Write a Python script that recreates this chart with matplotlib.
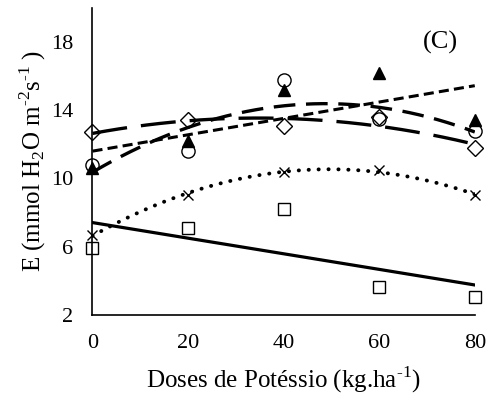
import matplotlib
matplotlib.use('Agg')
import matplotlib.pyplot as plt
import numpy as np

plt.rcParams['font.family'] = ['Liberation Serif', 'DejaVu Serif']
plt.rcParams['mathtext.fontset'] = 'custom'
plt.rcParams['mathtext.rm'] = 'Liberation Serif'

doses = [0, 20, 40, 60, 80]
e_square = [5.9, 7.1, 8.2, 3.65, 3.05]
e_cross = [6.7, 9.0, 10.4, 10.5, 9.0]
e_circle = [10.8, 11.6, 15.8, 13.5, 12.8]
e_triangle = [10.6, 12.2, 15.2, 16.2, 13.4]
e_diamond = [12.7, 13.4, 13.1, 13.6, 11.8]

fig = plt.figure(figsize=(4.92, 3.96), dpi=100)
ax = fig.add_axes([0.188, 0.205, 0.777, 0.775])

x = np.array(doses)
xs = np.linspace(0, 80, 200)

# markers (hollow, trend lines drawn on top)
ax.plot(x, e_square, 's', ms=9, mfc='none', mec='black', mew=1.0, clip_on=False)
ax.plot(x, e_cross, 'x', ms=7, mec='black', mew=1.0, clip_on=False)
ax.plot(x, e_circle, 'o', ms=9.5, mfc='none', mec='black', mew=1.0, clip_on=False)
ax.plot(x, e_triangle, '^', ms=8.5, mfc='black', mec='black', clip_on=False)
ax.plot(x, e_diamond, 'D', ms=8, mfc='none', mec='black', mew=1.0, clip_on=False)

# trend lines
fit = np.polyfit(x, e_square, 1)
ax.plot(xs, np.polyval(fit, xs), '-', color='black', lw=2.3)

fit = np.polyfit(x, e_cross, 2)
ax.plot(xs, np.polyval(fit, xs), color='black', lw=2.8,
        linestyle=(0, (0.05, 2.5)), dash_capstyle='round')

fit = np.polyfit(x, e_triangle, 1)
ax.plot(xs, np.polyval(fit, xs), color='black', lw=2.2,
        linestyle=(0, (3.3, 1.7)))

fit = np.polyfit(x, e_circle, 2)
ax.plot(xs, np.polyval(fit, xs), color='black', lw=2.4,
        linestyle=(0, (6.5, 3.2)))

fit = np.polyfit(x, e_diamond, 2)
ax.plot(xs, np.polyval(fit, xs), color='black', lw=2.4,
        linestyle=(0, (10.5, 4.2)))

ax.set_xlim(0, 80)
ax.set_ylim(2, 20)
ax.set_xticks([0, 20, 40, 60, 80])
ax.set_yticks([2, 6, 10, 14, 18])
ax.tick_params(axis='both', length=0, labelsize=16, pad=14)
ax.spines['top'].set_visible(False)
ax.spines['right'].set_visible(False)
ax.spines['left'].set_linewidth(1.2)
ax.spines['bottom'].set_linewidth(1.2)

ax.set_xlabel('Doses de Potéssio (kg.ha$^{\\text{-1}}$)', fontsize=18, labelpad=8)
ax.set_ylabel('E (mmol H$_2$O m$^{\\text{-2}}$s$^{\\text{-1}}$ )', fontsize=18, labelpad=2)
ax.text(0.911, 0.886, '(C)', transform=ax.transAxes, fontsize=19,
        ha='center', va='center')

fig.savefig('out.png', dpi=100)
